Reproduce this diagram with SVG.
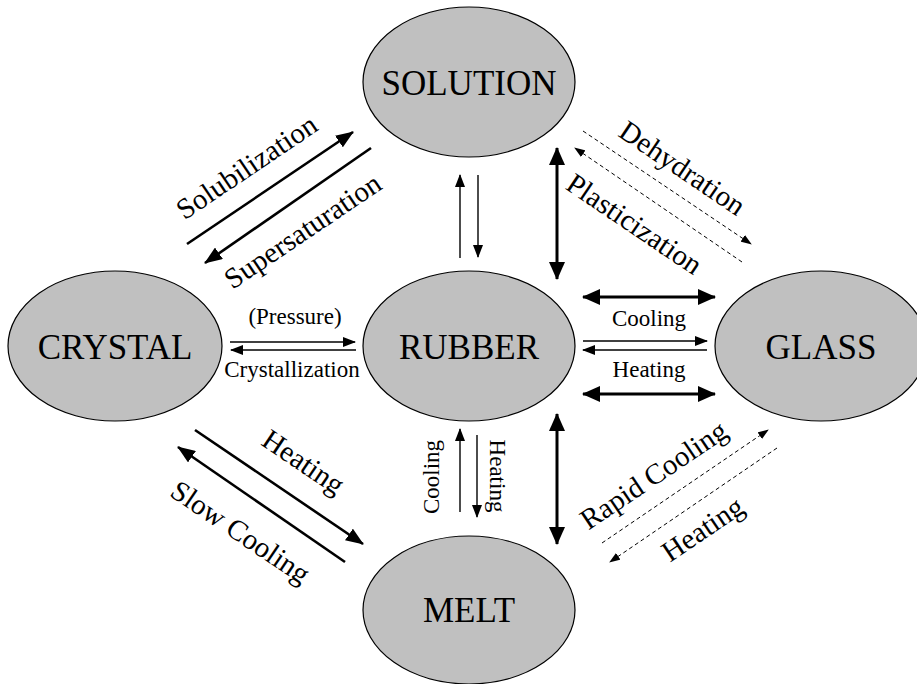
<svg xmlns="http://www.w3.org/2000/svg" width="917" height="684" viewBox="0 0 917 684">
  <style>
    .node { fill: #c0c0c0; stroke: #000; stroke-width: 1.2; }
    .lbl { font-family: "Liberation Serif", "Times New Roman", serif; font-size: 35px; text-anchor: middle; fill: #000; }
    .t { font-family: "Liberation Serif", "Times New Roman", serif; text-anchor: middle; fill: #000; }
    .s23 { font-size: 23px; }
    .s26 { font-size: 29px; }
    .thin { stroke: #000; stroke-width: 1.4; fill: none; }
    .thick { stroke: #000; stroke-width: 3; fill: none; }
    .diag { stroke: #000; stroke-width: 2.6; fill: none; }
    .dash { stroke: #000; stroke-width: 1; fill: none; stroke-dasharray: 4 3; }
  </style>
  <defs>
    <marker id="hSmall" markerUnits="userSpaceOnUse" markerWidth="13" markerHeight="10" refX="12" refY="5" orient="auto-start-reverse">
      <path d="M0,0 L13,5 L0,10 z" fill="#000"/>
    </marker>
    <marker id="hBig" markerUnits="userSpaceOnUse" markerWidth="18" markerHeight="16" refX="17" refY="8" orient="auto-start-reverse">
      <path d="M0,0 L18,8 L0,16 z" fill="#000"/>
    </marker>
    <marker id="hDiag" markerUnits="userSpaceOnUse" markerWidth="18" markerHeight="14" refX="17" refY="7" orient="auto-start-reverse">
      <path d="M0,0 L18,7 L0,14 z" fill="#000"/>
    </marker>
    <marker id="hDash" markerUnits="userSpaceOnUse" markerWidth="11" markerHeight="8" refX="10" refY="4" orient="auto-start-reverse">
      <path d="M0,0 L11,4 L0,8 z" fill="#000"/>
    </marker>
  </defs>

  <rect width="917" height="684" fill="#fff"/>

  <!-- states -->
  <g id="solution">
    <ellipse class="node" cx="469" cy="82" rx="106" ry="75"/>
    <text class="lbl" x="469" y="95">SOLUTION</text>
  </g>
  <g id="rubber">
    <ellipse class="node" cx="469" cy="346" rx="106" ry="75"/>
    <text class="lbl" x="469" y="359">RUBBER</text>
  </g>
  <g id="crystal">
    <ellipse class="node" cx="115" cy="346" rx="107" ry="75"/>
    <text class="lbl" x="115" y="359">CRYSTAL</text>
  </g>
  <g id="glass">
    <ellipse class="node" cx="821" cy="346" rx="106" ry="75"/>
    <text class="lbl" x="821" y="359">GLASS</text>
  </g>
  <g id="melt">
    <ellipse class="node" cx="469" cy="610" rx="106" ry="74"/>
    <text class="lbl" x="469" y="622">MELT</text>
  </g>

  <!-- transitions -->
  <g id="connectors">
    <!-- crystal / solution -->
    <line class="diag" x1="187" y1="244" x2="353" y2="132" marker-end="url(#hDiag)"/>
    <line class="diag" x1="371" y1="148" x2="205" y2="263" marker-end="url(#hDiag)"/>
    <!-- solution / rubber -->
    <line class="thin" x1="460" y1="258" x2="460" y2="175" marker-end="url(#hSmall)"/>
    <line class="thin" x1="478" y1="175" x2="478" y2="257" marker-end="url(#hSmall)"/>
    <line class="thick" x1="557" y1="148" x2="557" y2="279" marker-start="url(#hBig)" marker-end="url(#hBig)"/>
    <!-- solution / glass -->
    <line class="dash" x1="583" y1="131" x2="751" y2="244" marker-end="url(#hDash)"/>
    <line class="dash" x1="742" y1="262" x2="575" y2="148" marker-end="url(#hDash)"/>
    <!-- crystal / rubber -->
    <line class="thin" x1="230" y1="342" x2="355" y2="342" marker-end="url(#hSmall)"/>
    <line class="thin" x1="356" y1="350" x2="231" y2="350" marker-end="url(#hSmall)"/>
    <!-- rubber / glass -->
    <line class="thick" x1="583" y1="297" x2="715" y2="297" marker-start="url(#hBig)" marker-end="url(#hBig)"/>
    <line class="thin" x1="583" y1="341" x2="707" y2="341" marker-end="url(#hSmall)"/>
    <line class="thin" x1="707" y1="350" x2="583" y2="350" marker-end="url(#hSmall)"/>
    <line class="thick" x1="583" y1="394" x2="715" y2="394" marker-start="url(#hBig)" marker-end="url(#hBig)"/>
    <!-- rubber / melt -->
    <line class="thin" x1="460" y1="512" x2="460" y2="429" marker-end="url(#hSmall)"/>
    <line class="thin" x1="477" y1="435" x2="477" y2="517" marker-end="url(#hSmall)"/>
    <line class="thick" x1="557" y1="414" x2="557" y2="544" marker-start="url(#hBig)" marker-end="url(#hBig)"/>
    <!-- crystal / melt -->
    <line class="diag" x1="195" y1="430" x2="363" y2="544" marker-end="url(#hDiag)"/>
    <line class="diag" x1="345" y1="562" x2="178" y2="447" marker-end="url(#hDiag)"/>
    <!-- melt / glass -->
    <line class="dash" x1="602" y1="543" x2="768" y2="430" marker-end="url(#hDash)"/>
    <line class="dash" x1="777" y1="448" x2="610" y2="562" marker-end="url(#hDash)"/>
  </g>

  <!-- transition labels -->
  <g id="labels">
    <text class="t s26" transform="translate(252,175) rotate(-34)">Solubilization</text>
    <text class="t s26" transform="translate(308,239) rotate(-34)">Supersaturation</text>
    <text class="t s26" transform="translate(677,176) rotate(34)">Dehydration</text>
    <text class="t s26" transform="translate(629,232) rotate(34)">Plasticization</text>
    <text class="t s23" x="295" y="324">(Pressure)</text>
    <text class="t s23" x="292" y="377">Crystallization</text>
    <text class="t s23" x="649" y="326">Cooling</text>
    <text class="t s23" x="649" y="377">Heating</text>
    <text class="t s23" transform="translate(439,477) rotate(-90)">Cooling</text>
    <text class="t s23" transform="translate(490,476) rotate(90)">Heating</text>
    <text class="t s26" transform="translate(298,470) rotate(34)">Heating</text>
    <text class="t s26" transform="translate(235,540) rotate(34)">Slow Cooling</text>
    <text class="t s26" transform="translate(659,483) rotate(-34)">Rapid Cooling</text>
    <text class="t s26" transform="translate(708,537) rotate(-34)">Heating</text>
  </g>
</svg>
